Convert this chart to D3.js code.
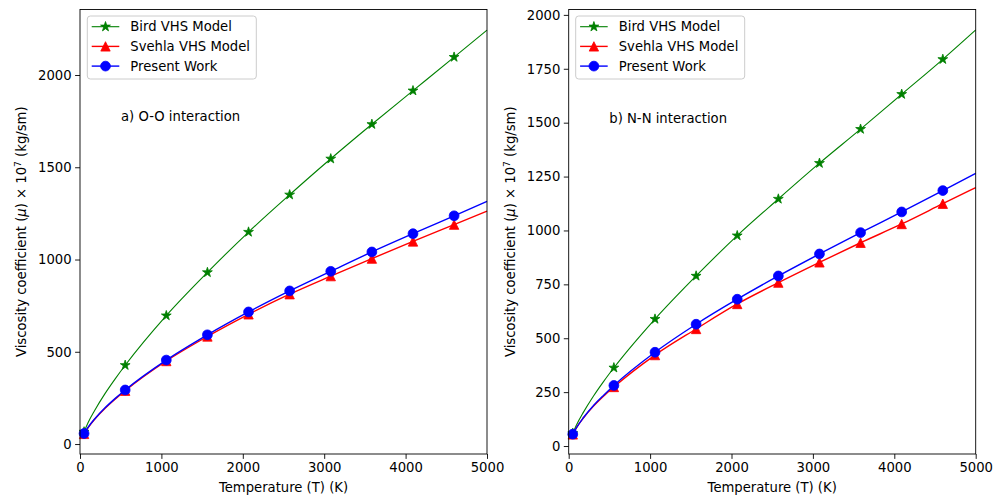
<!DOCTYPE html>
<html>
<head>
<meta charset="utf-8">
<script src="https://cdn.jsdelivr.net/npm/d3@7/dist/d3.min.js"></script>
<style>
  html, body { margin: 0; padding: 0; background: #fff; }
  svg { display: block; font-family: "DejaVu Sans", sans-serif; }
</style>
</head>
<body>
<svg id="chart" width="997" height="498"></svg>
<script>
// Temperatures (K) at which the curves are sampled; markers sit on every marker temperature
const curveT  = [50, 100, 180, 305, 430, 555.1, 1060.2, 1565.3, 2070.4, 2575.5, 3080.6, 3585.7, 4090.8, 4595.9, 5000];
const markerT = [50, 555.1, 1060.2, 1565.3, 2070.4, 2575.5, 3080.6, 3585.7, 4090.8, 4595.9];

// Viscosity coefficient x 1e7 (kg/sm), oxygen (O-O)
const birdO    = [66, 117, 182, 272, 352, 427, 696, 930, 1149, 1351, 1546, 1733, 1915, 2097, 2243];
const svehlaO  = [55, 89, 134, 192, 243, 289, 450, 583, 703, 812, 910, 1005, 1098, 1189, 1262];
const presentO = [57, 91, 136, 195, 246, 293, 455, 592, 716, 830, 936, 1041, 1140, 1237, 1315];

// Viscosity coefficient x 1e7 (kg/sm), nitrogen (N-N)
const birdN    = [59, 101, 156, 232, 300, 363, 589, 789, 976, 1146, 1312, 1470, 1632, 1794, 1930];
const svehlaN  = [54, 88, 130, 185, 232, 274, 422, 543, 659, 758, 852, 943, 1030, 1124, 1199];
const presentN = [55, 88, 131, 188, 236, 281, 435, 565, 681, 789, 891, 990, 1086, 1185, 1265];

const seriesNames = ["Bird VHS Model", "Svehla VHS Model", "Present Work"];
const xTicks  = [0, 1000, 2000, 3000, 4000, 5000];
const yTicksO = [0, 500, 1000, 1500, 2000];
const yTicksN = [0, 250, 500, 750, 1000, 1250, 1500, 1750, 2000];
const panelTitles = ["a) O-O interaction", "b) N-N interaction"];

const styles = [
  { color: "#008000", width: 1.1, marker: "star" },
  { color: "#ff0000", width: 1.4, marker: "triangle" },
  { color: "#0000ff", width: 1.4, marker: "circle" }
];

const FS = 13.2;
const svg = d3.select("#chart");

function markerPath(kind) {
  if (kind === "star") return d3.symbol(d3.symbolStar, 30)();
  if (kind === "triangle") { const h = 4.7; return `M0,${-h}L${-h},${h}L${h},${h}Z`; }
  return d3.symbol(d3.symbolCircle, Math.PI * 4.9 * 4.9)();
}

function panel(opts) {
  const { left, right, top, bottom, yDomain, yTicks, data, title, titlePos, legendX, ylabelX } = opts;
  const x = d3.scaleLinear().domain([0, 5000]).range([left, right]);
  const y = d3.scaleLinear().domain(yDomain).range([bottom, top]);
  const g = svg.append("g");

  // curves with markers
  const line = d3.line().x(d => x(d[0])).y(d => y(d[1])).curve(d3.curveMonotoneX);
  data.forEach((vals, i) => {
    const pts = curveT.map((t, k) => [t, vals[k]]);
    const st = styles[i];
    g.append("path").attr("d", line(pts)).attr("fill", "none")
      .attr("stroke", st.color).attr("stroke-width", st.width).attr("stroke-linejoin", "round");
    g.selectAll(null).data(pts.filter(p => markerT.includes(p[0]))).join("path")
      .attr("d", markerPath(st.marker))
      .attr("transform", d => `translate(${x(d[0])},${y(d[1])})`)
      .attr("fill", st.color).attr("stroke", st.color).attr("stroke-width", 0.8);
  });

  // axes
  const xAxis = d3.axisBottom(x).tickValues(xTicks).tickFormat(d3.format("d")).tickSize(4.9).tickPadding(3.8);
  const yAxis = d3.axisLeft(y).tickValues(yTicks).tickFormat(d3.format("d")).tickSize(4.9).tickPadding(3.5);
  const gx = g.append("g").attr("transform", `translate(0,${bottom})`).call(xAxis);
  const gy = g.append("g").attr("transform", `translate(${left},0)`).call(yAxis);
  [gx, gy].forEach(a => {
    a.select(".domain").remove();
    a.selectAll("line").attr("stroke", "#000").attr("stroke-width", 0.9);
    a.selectAll("text").attr("font-size", FS).attr("font-family", "DejaVu Sans").attr("fill", "#000");
  });
  g.append("rect").attr("x", left).attr("y", top).attr("width", right - left).attr("height", bottom - top)
    .attr("fill", "none").attr("stroke", "#000").attr("stroke-width", 0.9);

  // axis labels
  g.append("text").attr("x", (left + right) / 2).attr("y", 492).attr("text-anchor", "middle")
    .attr("font-size", FS).text("Temperature (T) (K)");
  const yl = g.append("text").attr("transform", `translate(${ylabelX},${(top + bottom) / 2}) rotate(-90)`)
    .attr("text-anchor", "middle").attr("font-size", FS);
  yl.append("tspan").text("Viscosity coefficient (");
  yl.append("tspan").attr("font-style", "italic").text("μ");
  yl.append("tspan").text(") × 10");
  yl.append("tspan").attr("font-size", FS * 0.7).attr("dy", -5).text("7");
  yl.append("tspan").attr("dy", 5).text(" (kg/sm)");

  // panel title
  g.append("text").attr("x", titlePos[0]).attr("y", titlePos[1]).attr("dy", "0.35em")
    .attr("font-size", FS).text(title);

  // legend
  const lg = g.append("g").attr("transform", `translate(${legendX},16)`);
  lg.append("rect").attr("width", 169).attr("height", 63).attr("rx", 3)
    .attr("fill", "#fff").attr("fill-opacity", 0.8).attr("stroke", "#cccccc").attr("stroke-width", 1);
  seriesNames.forEach((name, i) => {
    const yy = 10.7 + i * 19.7;
    const st = styles[i];
    lg.append("line").attr("x1", 4.4).attr("x2", 32).attr("y1", yy).attr("y2", yy)
      .attr("stroke", st.color).attr("stroke-width", st.width);
    lg.append("path").attr("d", markerPath(st.marker)).attr("transform", `translate(18.2,${yy})`)
      .attr("fill", st.color).attr("stroke", st.color).attr("stroke-width", 0.8);
    lg.append("text").attr("x", 43).attr("y", yy).attr("dy", "0.35em").attr("font-size", FS).text(name);
  });
}

panel({
  left: 80, right: 487, top: 9.5, bottom: 454,
  yDomain: [-54, 2355], yTicks: yTicksO,
  data: [birdO, svehlaO, presentO],
  title: panelTitles[0], titlePos: [121, 116.7], legendX: 87.3, ylabelX: 26
});
panel({
  left: 568.7, right: 975.7, top: 9.5, bottom: 454,
  yDomain: [-37, 2025], yTicks: yTicksN,
  data: [birdN, svehlaN, presentN],
  title: panelTitles[1], titlePos: [609.3, 118], legendX: 575.7, ylabelX: 514.5
});
</script>
</body>
</html>
